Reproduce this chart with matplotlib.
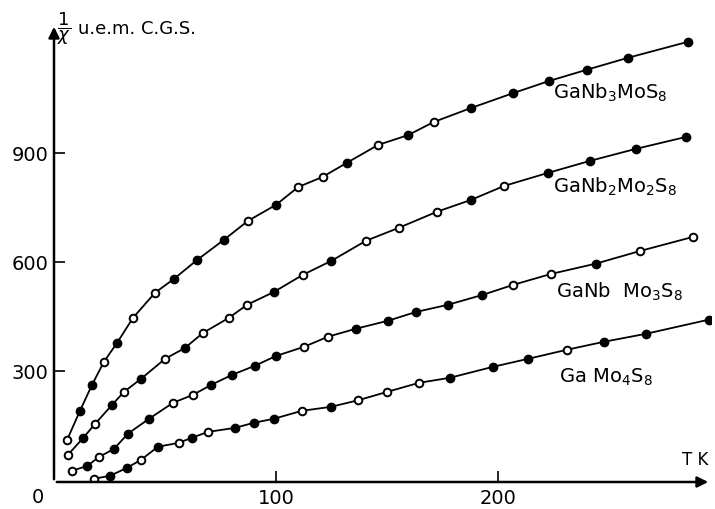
import numpy as np
import matplotlib
matplotlib.use("Agg")
import matplotlib.pyplot as plt

# 1/chi (u.e.m. C.G.S.) versus T (K)
t_nb3 = [5.9, 11.7, 17.1, 22.5, 28.4, 35.6, 45.5, 54, 64.4, 76.6, 87.4, 100, 110, 121,
         132, 146, 159.5, 171, 188, 207, 223, 240, 258.6, 285.6]
y_nb3 = [110, 190, 261, 325, 377, 446, 515, 553, 605, 661, 713, 757, 806, 834,
         873, 922, 949, 985, 1024, 1065, 1098, 1129, 1162, 1206]
f_nb3 = [0, 1, 1, 0, 1, 0, 0, 1, 1, 1, 0, 1, 0, 0, 1, 0, 1, 0, 1, 1, 1, 1, 1, 1]

t_nb2 = [6.3, 13.1, 18.5, 26.1, 31.5, 39.2, 50, 59, 67, 78.8, 87, 99, 112, 125,
         140.5, 155.4, 172.5, 188, 202.7, 222.5, 241.4, 262, 284.7]
y_nb2 = [69, 115, 154, 206, 242, 278, 333, 363, 404, 446, 482, 517, 564, 603,
         658, 694, 738, 771, 809, 845, 878, 911, 944]
f_nb2 = [0, 1, 0, 1, 0, 1, 0, 1, 0, 0, 0, 1, 0, 1, 0, 0, 0, 1, 0, 1, 1, 1, 1]

t_nb1 = [8.1, 14.9, 20.3, 27, 33.3, 42.8, 53.6, 62.6, 70.7, 80.2, 90.5, 100, 112.6,
         123.4, 136, 150.5, 163, 177.5, 193, 207, 224, 244, 264, 288]
y_nb1 = [25, 38, 63, 85, 127, 168, 212, 234, 261, 289, 314, 341, 366,
         394, 416, 438, 462, 482, 509, 537, 567, 595, 630, 669]
f_nb1 = [0, 1, 0, 1, 1, 1, 0, 0, 1, 1, 1, 1, 0, 0, 1, 1, 1, 1, 1, 0, 0, 1, 0, 0]

t_mo4 = [18, 25.2, 32.9, 39.2, 46.8, 56.3, 62.2, 69.4, 81.5, 90, 99, 111.7, 124.8,
         137, 150, 164.4, 178.4, 197.7, 213.5, 231, 247.7, 266.7, 295]
y_mo4 = [3, 11, 33, 55, 91, 102, 116, 132, 143, 157, 168, 190, 201,
         219, 242, 267, 281, 311, 333, 358, 380, 402, 441]
f_mo4 = [0, 1, 1, 0, 1, 0, 1, 0, 1, 1, 1, 0, 1, 0, 0, 0, 1, 1, 1, 0, 1, 1, 1]

series = [
    (t_nb3, y_nb3, f_nb3, r"GaNb$_3$MoS$_8$", (225, 1098)),
    (t_nb2, y_nb2, f_nb2, r"GaNb$_2$Mo$_2$S$_8$", (225, 840)),
    (t_nb1, y_nb1, f_nb1, r"GaNb  Mo$_3$S$_8$", (226, 551)),
    (t_mo4, y_mo4, f_mo4, r"Ga Mo$_4$S$_8$", (227.5, 314)),
]

fig = plt.figure(figsize=(7.15, 5.1), dpi=100)
ax = fig.add_axes([54 / 715, 1 - 483 / 510, 657 / 715, 458 / 510])
ax.set_xlim(0, 296)
ax.set_ylim(-6, 1255)

for t, y, f, name, pos in series:
    t = np.array(t)
    y = np.array(y)
    f = np.array(f, dtype=bool)
    ax.plot(t, y, color="black", lw=1.3, zorder=2)
    ax.plot(t[f], y[f], "o", ms=6, color="black", zorder=3)
    ax.plot(t[~f], y[~f], "o", ms=5.5, mfc="white", mec="black", mew=1.4, zorder=3)
    ax.text(pos[0], pos[1], name, fontsize=14, va="top", ha="left")

for s in ax.spines.values():
    s.set_visible(False)

# axes with arrow heads
ax.annotate("", xy=(1.0, 0), xytext=(0, 0), xycoords="axes fraction",
            arrowprops=dict(arrowstyle="-|>", lw=1.8, color="black", mutation_scale=16))
ax.annotate("", xy=(0, 1.0), xytext=(0, 0), xycoords="axes fraction",
            arrowprops=dict(arrowstyle="-|>", lw=1.8, color="black", mutation_scale=16))

ax.set_xticks([100, 200])
ax.set_yticks([300, 600, 900])
ax.tick_params(direction="in", length=8, width=1.2, labelsize=14, pad=4)
ax.set_xticklabels(["100", "200"])
ax.set_yticklabels(["300", "600", "900"])

ax.text(-0.015, -0.01, "0", transform=ax.transAxes, fontsize=14, ha="right", va="top")
ax.text(283, 32, "T K", fontsize=12, ha="left", va="bottom")
ax.text(1.5, 1245, r"$\dfrac{1}{\chi}$", fontsize=13, ha="left", va="center")
ax.text(11, 1245, "u.e.m. C.G.S.", fontsize=13, ha="left", va="center")

fig.savefig("out.png", dpi=100)
